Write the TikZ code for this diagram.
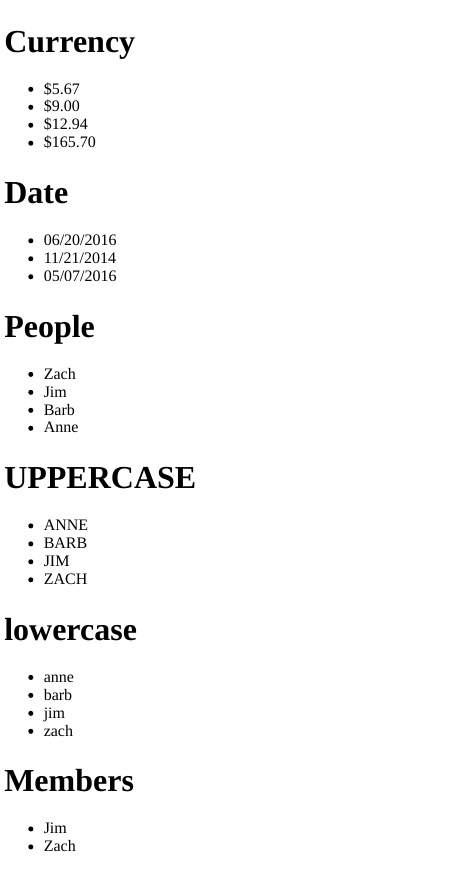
\documentclass[tikz,border=0pt]{standalone}
\usepackage{fontspec}
\setmainfont{Liberation Serif}
\begin{document}
\begin{tikzpicture}[x=0.75pt,y=-0.75pt,
  heading/.style={anchor=base west,inner sep=0pt,font=\fontsize{24pt}{28pt}\selectfont\bfseries},
  item/.style={anchor=base west,inner sep=0pt,font=\fontsize{12pt}{14pt}\selectfont},
  dot/.style={circle,fill=black,inner sep=0pt,minimum size=3.8pt}]
\useasboundingbox[fill=white] (0,0) rectangle (450,886);
\def\L{17.96}
\def\S{79.68}
% section macro
\newcommand{\mysection}[4]{% #1 name, #2 baseline y, #3 title, #4 list
  \node[heading] (#1) at (4,#2) {#3};
  \foreach \t [count=\i] in {#4} {
    \pgfmathsetmacro{\yy}{#2+42+(\i-1)*\L}
    \node[item] (#1-\i) at (43.5,\yy) {\t};
    \node[dot] (#1-b\i) at (30.8,\yy-4.7) {};
  }
}
\pgfmathsetmacro{\ya}{52}
\pgfmathsetmacro{\yb}{\ya+\S+4*\L}
\pgfmathsetmacro{\yc}{\yb+\S+3*\L}
\pgfmathsetmacro{\yd}{\yc+\S+4*\L}
\pgfmathsetmacro{\ye}{\yd+\S+4*\L}
\pgfmathsetmacro{\yf}{\ye+\S+4*\L}
\mysection{cur}{\ya}{Currency}{\$5.67,\$9.00,\$12.94,\$165.70}
\mysection{date}{\yb}{Date}{06/20/2016,11/21/2014,05/07/2016}
\mysection{ppl}{\yc}{People}{Zach,Jim,Barb,Anne}
\mysection{up}{\yd}{UPPERCASE}{ANNE,BARB,JIM,ZACH}
\mysection{low}{\ye}{lowercase}{anne,barb,jim,zach}
\mysection{mem}{\yf}{Members}{Jim,Zach}
\end{tikzpicture}
\end{document}
